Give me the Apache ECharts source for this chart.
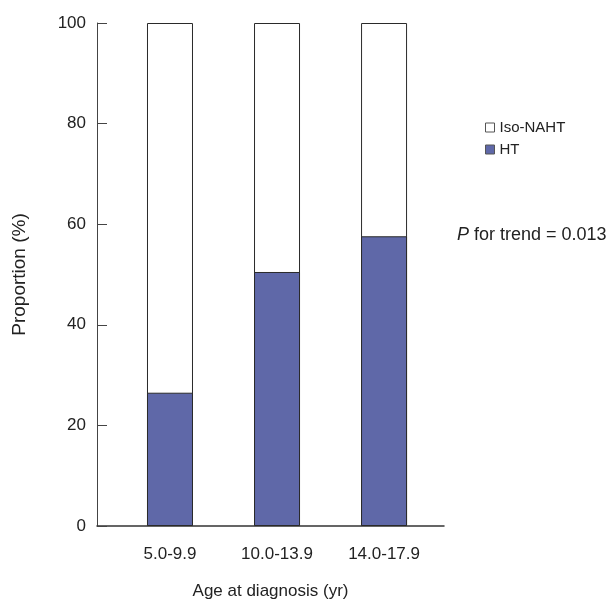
<!DOCTYPE html>
<html>
<head>
<meta charset="utf-8">
<script src="https://cdn.jsdelivr.net/npm/echarts@6/dist/echarts.min.js"></script>
<style>html,body{margin:0;padding:0;background:#fff}#c{width:610px;height:605px}</style>
</head>
<body>
<div id="c"></div>
<script>
var categories = ['5.0-9.9', '10.0-13.9', '14.0-17.9'];
var positions = [1, 2, 3];
var htValues = [26.5, 50.5, 57.6];
var isoValues = [73.5, 49.5, 42.4];
var yTicks = [0, 20, 40, 60, 80, 100];

var FONT = '"Liberation Sans Narrow", "Liberation Sans", Arial, sans-serif';
var chart = echarts.init(document.getElementById('c'), null, {renderer: 'canvas'});
var border = {borderColor: '#2a2a2a', borderWidth: 1};
// white (Iso-NAHT) bar spans the whole column: HT + Iso-NAHT; HT is overlaid from 0
var totals = htValues.map(function (v, i) { return v + isoValues[i]; });
chart.setOption({
  animation: false,
  textStyle: {fontFamily: FONT},
  grid: {left: 97, top: 23, width: 347, height: 506, containLabel: false},
  title: {
    text: '{i|P} for trend = 0.013',
    left: 452, top: 221,
    textStyle: {fontFamily: FONT, fontSize: 18, fontWeight: 'normal', color: '#222',
      rich: {i: {fontFamily: FONT, fontSize: 18, fontStyle: 'italic', color: '#222'}}}
  },
  legend: {
    orient: 'vertical', left: 480, top: 115, icon: 'rect',
    itemWidth: 9, itemHeight: 9, itemGap: 7,
    itemStyle: {borderWidth: 1, borderColor: '#555'},
    textStyle: {fontFamily: FONT, fontSize: 15, color: '#222'},
    data: ['Iso-NAHT', 'HT']
  },
  xAxis: {
    type: 'value', min: 0.318, max: 3.56,
    splitLine: {show: false},
    axisLine: {show: true, lineStyle: {color: '#333', width: 1.5}},
    axisTick: {show: false},
    axisLabel: {
      customValues: positions,
      formatter: function (v) { var i = positions.indexOf(Math.round(v)); return i >= 0 ? categories[i] : ''; },
      fontFamily: FONT, fontSize: 17, color: '#222', margin: 20
    },
    name: 'Age at diagnosis (yr)', nameLocation: 'middle', nameGap: 57,
    nameTextStyle: {fontFamily: FONT, fontSize: 17, color: '#222'}
  },
  yAxis: {
    type: 'value', min: 0, max: 100, interval: 20,
    splitLine: {show: false},
    axisLine: {show: true, lineStyle: {color: '#444', width: 1}},
    axisTick: {show: true, inside: true, length: 10, lineStyle: {color: '#444'}},
    axisLabel: {fontFamily: FONT, fontSize: 17, color: '#222', margin: 11},
    name: 'Proportion (%)', nameLocation: 'middle', nameGap: 68,
    nameTextStyle: {fontFamily: FONT, fontSize: 19, color: '#222'}
  },
  series: [
    {name: 'Iso-NAHT', type: 'bar', barWidth: 46, barGap: '-100%',
      itemStyle: Object.assign({color: '#ffffff'}, border),
      data: positions.map(function (p, i) { return [p, totals[i]]; })},
    {name: 'HT', type: 'bar', barWidth: 46, barGap: '-100%',
      itemStyle: Object.assign({color: '#5f68a8'}, border),
      data: positions.map(function (p, i) { return [p, htValues[i]]; })}
  ]
});
</script>
</body>
</html>
